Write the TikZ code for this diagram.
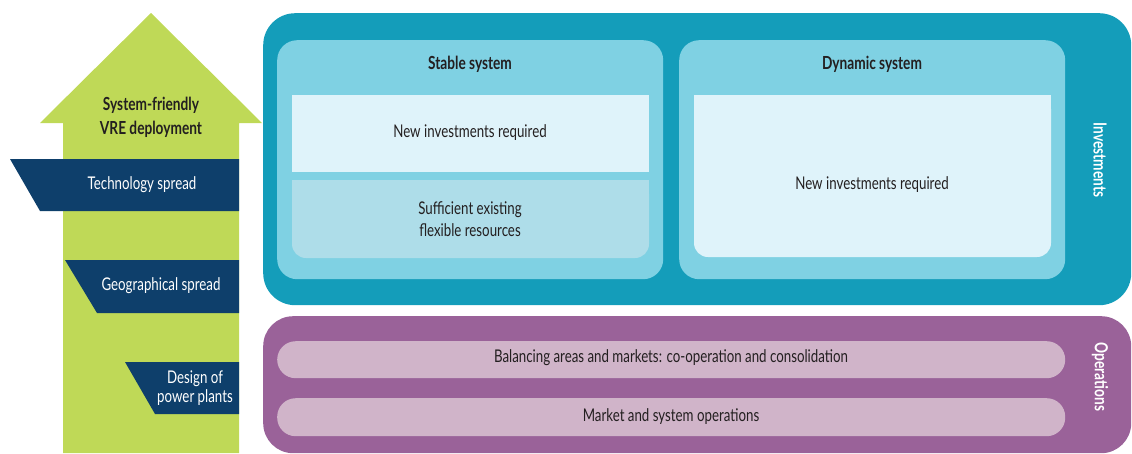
\documentclass[tikz,border=0pt]{standalone}
\usepackage{fontspec}
\setmainfont{Lato}[FakeStretch=0.76]
\definecolor{vgreen}{HTML}{BFD957}
\definecolor{navy}{HTML}{0E3F6B}
\definecolor{teal1}{HTML}{149DBA}
\definecolor{teal2}{HTML}{7FD1E3}
\definecolor{pale}{HTML}{DFF3FA}
\definecolor{midblue}{HTML}{AEDDE9}
\definecolor{purp}{HTML}{9A6299}
\definecolor{pink}{HTML}{D0B4C9}
\definecolor{ink}{HTML}{231F20}
\tikzset{
  banner/.style={fill=navy, draw=none},
  bannertext/.style={text=white, font=\fontsize{17.5}{19.5}\selectfont, align=center, inner sep=0pt},
  bodytext/.style={text=ink, font=\fontsize{17.5}{22}\selectfont, align=center, inner sep=0pt},
  titletext/.style={text=ink, font=\bfseries\fontsize{18}{20}\selectfont, align=center, inner sep=0pt},
  sidetext/.style={text=white, font=\bfseries\fontsize{18}{20}\selectfont, rotate=-90, inner sep=0pt},
  panel/.style={draw=none, inner sep=0pt, anchor=north west},
}
\begin{document}
\begin{tikzpicture}[x=1pt,y=-1pt]
\useasboundingbox (0,0) rectangle (1132,453);
% big arrow
\fill[vgreen] (63,453) -- (63,123) -- (40,123) -- (151,13) -- (262,123) -- (239,123) -- (239,453) -- cycle;
\node[titletext, font=\bfseries\fontsize{18}{24}\selectfont] (arrowlbl) at (151,117) {System-friendly\\VRE deployment};
% banners
\fill[banner] (10,159) -- (239,159) -- (239,211) -- (40,211) -- cycle;
\node[bannertext] (tech) at (142,185) {Technology spread};
\fill[banner] (65,260) -- (239,260) -- (239,313) -- (97,313) -- cycle;
\node[bannertext] (geo) at (161,286) {Geographical spread};
\fill[banner] (125,362) -- (239,362) -- (239,414) -- (155,414) -- cycle;
\node[bannertext, font=\fontsize{17.5}{19.5}\selectfont] (design) at (195,388) {Design of\\power plants};
% investments outer
\node[panel, fill=teal1, rounded corners=32pt, minimum width=868pt, minimum height=292pt] (inv) at (263,13) {};
\node[sidetext] (invlbl) at (1100,160) {Investments};
% stable system
\node[panel, fill=teal2, rounded corners=20pt, minimum width=386pt, minimum height=239pt] (stable) at (277,40) {};
\node[titletext] (stabletitle) at (470,64) {Stable system};
\fill[pale] (292,95) rectangle (649,172);
\node[bodytext] (stnew) at (470,133) {New investments required};
\fill[midblue, rounded corners=14pt] (292,180) -- (649,180) -- (649,258) -- (292,258) -- cycle;
\fill[midblue] (292,180) rectangle (649,200);
\node[bodytext] (stsuff) at (470,219) {Sufficient existing\\flexible resources};
% dynamic system
\node[panel, fill=teal2, rounded corners=20pt, minimum width=386pt, minimum height=239pt] (dynamic) at (679,40) {};
\node[titletext] (dyntitle) at (872,64) {Dynamic system};
\fill[pale, rounded corners=14pt] (694,95) -- (1051,95) -- (1051,257) -- (694,257) -- cycle;
\fill[pale] (694,95) rectangle (1051,120);
\node[bodytext] (dynnew) at (872,185) {New investments required};
% operations
\node[panel, fill=purp, rounded corners=30pt, minimum width=868pt, minimum height=137pt] (ops) at (263,316) {};
\node[sidetext] (opslbl) at (1100,377) {Operations};
\node[panel, fill=pink, rounded corners=18.5pt, minimum width=788pt, minimum height=37pt] (row1) at (277,341) {};
\node[bodytext] (row1t) at (671,358) {Balancing areas and markets: co-operation and consolidation};
\node[panel, fill=pink, rounded corners=18.5pt, minimum width=788pt, minimum height=38pt] (row2) at (277,398) {};
\node[bodytext] (row2t) at (671,417) {Market and system operations};
\end{tikzpicture}
\end{document}
